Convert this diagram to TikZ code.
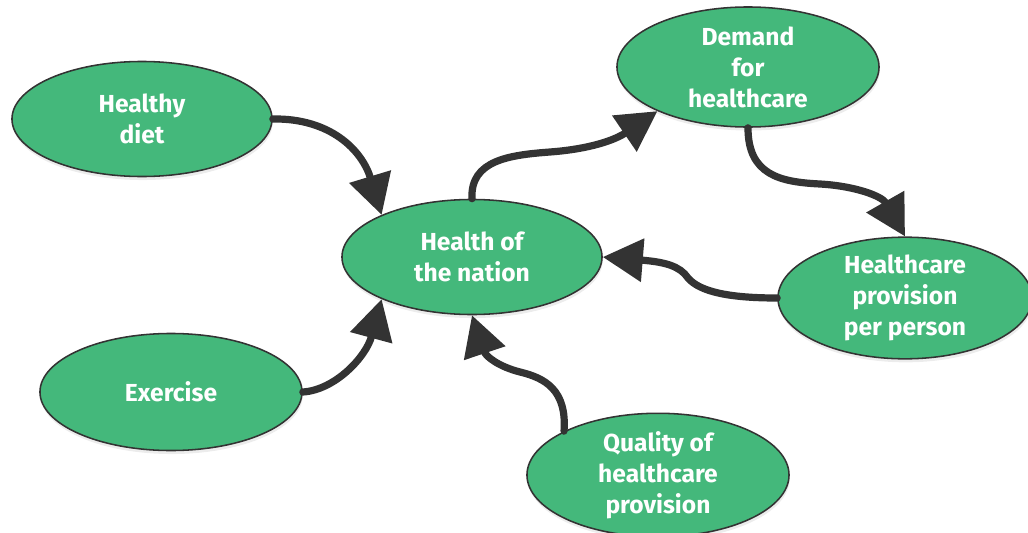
\documentclass[tikz,border=0pt]{standalone}
\usepackage{fontspec}
\setmainfont{Fira Sans}
\usetikzlibrary{shapes.geometric,arrows.meta,shadows}
\definecolor{leaf}{RGB}{68,184,123}
\definecolor{ink}{RGB}{51,51,51}
\begin{document}
\begin{tikzpicture}[x=0.025cm, y=-0.025cm, line join=round, line cap=round,
	bubble/.style={ellipse, draw=ink, line width=1.1pt, fill=leaf, text=white, inner sep=0pt, align=center,
		font=\fontsize{17.5}{22}\selectfont\bfseries, drop shadow={opacity=.15, shadow xshift=.5pt, shadow yshift=-2.5pt}},
	link/.style={draw=ink, line width=0.18cm, -{Triangle[length=1cm, width=1.05cm]}}]
	\useasboundingbox (0,0) rectangle (1028,533);
	\node[bubble, minimum width=6.5cm, minimum height=2.875cm] (diet) at (142,119) {Healthy\\diet};
	\node[bubble, minimum width=6.5cm, minimum height=2.875cm] (nation) at (472,257) {Health of\\the nation};
	\node[bubble, minimum width=6.55cm, minimum height=3cm] (demand) at (748,67) {Demand\\for\\healthcare};
	\node[bubble, minimum width=6.35cm, minimum height=2.925cm] (perhead) at (905,298) {Healthcare\\provision\\per person};
	\node[bubble, minimum width=6.55cm, minimum height=2.925cm] (exercise) at (171,392) {Exercise};
	\node[bubble, minimum width=6.55cm, minimum height=2.85cm] (quality) at (658,475) {Quality of\\healthcare\\provision};
	% into the nation
	\draw[link] (diet.east) .. controls (330,118) and (362,150) .. (nation.155);
	\draw[link] (exercise.east) .. controls (335,390) and (366,357) .. (nation.205);
	\draw[link] (quality.155) .. controls (567,390) and (545,378) .. (520,372) .. controls (500,367) and (486,357) .. (nation.south);
	\draw[link] (perhead.west) .. controls (730,298) and (700,292) .. (688,278) .. controls (680,266) and (665,262) .. (nation.east);
	% round the loop
	\draw[link] (nation.north) .. controls (470,160) and (510,155) .. (550,152) .. controls (590,149) and (615,140) .. (demand.206);
	\draw[link] (demand.south) .. controls (748,175) and (780,182) .. (820,184) .. controls (855,186) and (882,196) .. (perhead.north);
\end{tikzpicture}
\end{document}
